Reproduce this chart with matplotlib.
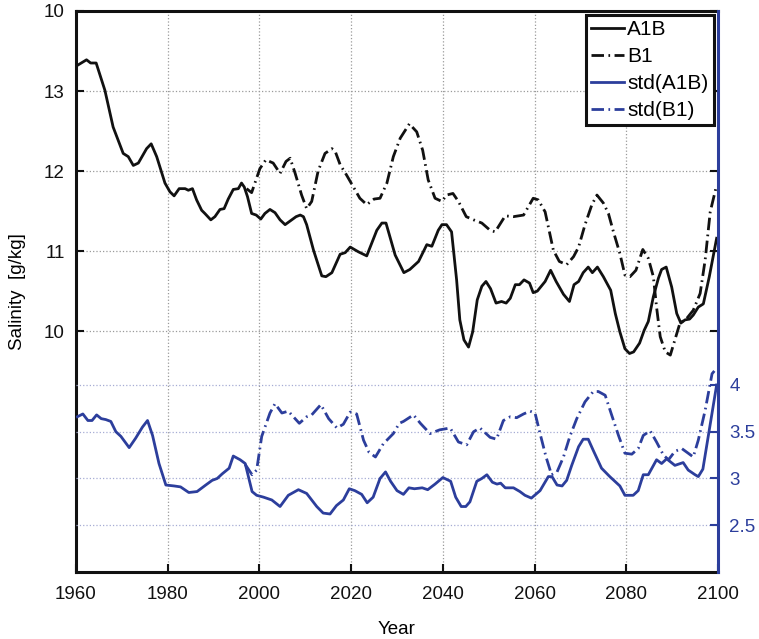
import numpy as np
import matplotlib
matplotlib.use("Agg")
import matplotlib.pyplot as plt

plt.rcParams['font.family'] = ['Liberation Sans', 'DejaVu Sans']

# Salinity, scenario A1B (left axis)
a1b_years = [1960, 1962.3, 1963.2, 1964.4, 1966.3, 1968.1, 1970.3, 1971.4, 1972.5, 1973.6,
             1975.4, 1976.4, 1977.6, 1979.4, 1980.5, 1981.4, 1982.5, 1983.8, 1984.5, 1985.4,
             1986.3, 1987.4, 1988.1, 1989.4, 1990.3, 1991.4, 1992.3, 1993.2, 1994.3, 1995.4,
             1996.1, 1996.7, 1997.4, 1998.3, 1999.3, 2000.3, 2001.2, 2002.3, 2003.4, 2004.5,
             2005.6, 2006.8, 2008.0, 2008.9, 2009.6, 2010.3, 2011.8, 2013.6, 2014.5, 2015.8,
             2017.6, 2018.7, 2019.8, 2021.6, 2023.4, 2025.6, 2026.7, 2027.6, 2029.6, 2031.5,
             2032.8, 2034.7, 2036.5, 2037.6, 2039.0, 2039.8, 2040.8, 2041.9, 2043.0, 2043.7,
             2044.6, 2045.6, 2046.5, 2047.5, 2048.5, 2049.4, 2050.4, 2051.6, 2052.8, 2053.8,
             2054.7, 2055.8, 2056.7, 2057.7, 2058.9, 2059.7, 2060.6, 2062.3, 2063.5, 2064.7,
             2066.3, 2067.6, 2068.6, 2069.6, 2070.6, 2071.7, 2072.6, 2073.7, 2075.0, 2076.6,
             2077.6, 2078.6, 2079.7, 2080.7, 2081.6, 2082.9, 2083.9, 2084.8, 2085.9, 2087.0,
             2087.7, 2088.7, 2089.9, 2091.0, 2091.9, 2092.8, 2093.8, 2094.6, 2095.7, 2096.8,
             2098.1, 2099.7]
a1b_vals = [13.31, 13.39, 13.35, 13.35, 13.01, 12.55, 12.22, 12.18, 12.07, 12.10,
            12.28, 12.34, 12.18, 11.85, 11.74, 11.69, 11.78, 11.78, 11.76, 11.78,
            11.64, 11.51, 11.47, 11.39, 11.43, 11.52, 11.53, 11.65, 11.77, 11.78,
            11.85, 11.80, 11.68, 11.47, 11.45, 11.40, 11.47, 11.52, 11.48, 11.39,
            11.33, 11.38, 11.43, 11.45, 11.43, 11.33, 11.01, 10.69, 10.68, 10.73,
            10.96, 10.98, 11.05, 10.99, 10.94, 11.26, 11.35, 11.35, 10.95, 10.73,
            10.77, 10.87, 11.08, 11.06, 11.26, 11.33, 11.33, 11.24, 10.64, 10.14,
            9.89, 9.80, 9.99, 10.39, 10.56, 10.62, 10.53, 10.35, 10.37, 10.35,
            10.41, 10.58, 10.58, 10.64, 10.60, 10.48, 10.50, 10.62, 10.76, 10.62,
            10.46, 10.37, 10.58, 10.62, 10.73, 10.80, 10.73, 10.80, 10.68, 10.51,
            10.22, 9.99, 9.78, 9.72, 9.74, 9.85, 10.01, 10.12, 10.43, 10.66,
            10.77, 10.80, 10.55, 10.22, 10.10, 10.14, 10.15, 10.20, 10.30, 10.34,
            10.68, 11.16]

# Salinity, scenario B1 (left axis)
b1_years = [1997.2, 1998.3, 2000.1, 2001.4, 2003.0, 2004.5, 2005.8, 2006.7, 2007.8, 2009.2,
            2010.3, 2011.4, 2012.8, 2014.3, 2015.8, 2016.5, 2017.6, 2019.0, 2020.5, 2021.9,
            2023.4, 2025.0, 2026.3, 2027.8, 2029.2, 2030.7, 2032.7, 2034.3, 2035.6, 2036.8,
            2038.3, 2039.8, 2040.8, 2042.2, 2043.4, 2045.1, 2046.7, 2048.5, 2050.3, 2051.4,
            2053.6, 2055.4, 2057.6, 2059.7, 2060.8, 2062.3, 2064.1, 2065.4, 2067.0, 2068.5,
            2069.6, 2071.0, 2072.5, 2073.6, 2075.0, 2076.1, 2077.2, 2078.6, 2079.7, 2080.8,
            2082.1, 2083.6, 2084.8, 2085.9, 2086.6, 2087.4, 2088.5, 2089.6, 2090.7, 2091.7,
            2093.2, 2094.6, 2096.1, 2097.2, 2098.3, 2099.6]
b1_vals = [11.78, 11.73, 12.03, 12.14, 12.10, 11.97, 12.12, 12.16, 11.97, 11.70,
           11.53, 11.62, 12.00, 12.22, 12.28, 12.25, 12.08, 11.95, 11.80, 11.66,
           11.58, 11.65, 11.66, 11.85, 12.18, 12.41, 12.59, 12.49, 12.26, 11.89,
           11.66, 11.62, 11.70, 11.72, 11.62, 11.43, 11.39, 11.35, 11.26, 11.24,
           11.44, 11.43, 11.45, 11.66, 11.64, 11.49, 11.01, 10.87, 10.83, 10.93,
           11.05, 11.33, 11.58, 11.70, 11.60, 11.47, 11.24, 10.97, 10.70, 10.68,
           10.76, 11.02, 10.91, 10.68, 10.30, 9.93, 9.74, 9.70, 9.91, 10.10,
           10.16, 10.26, 10.47, 10.89, 11.49, 11.80]

# std(A1B) (right axis)
sa_years = [1960.3, 1961.5, 1962.6, 1963.5, 1964.5, 1965.5, 1966.5, 1967.6, 1968.7, 1969.8,
            1971.6, 1973.0, 1974.5, 1975.6, 1976.7, 1978.1, 1979.6, 1981.4, 1982.8, 1984.6,
            1986.4, 1988.3, 1989.7, 1990.8, 1991.9, 1993.4, 1994.3, 1995.8, 1996.9, 1998.4,
            1999.4, 2000.9, 2002.7, 2004.5, 2006.3, 2008.5, 2010.3, 2012.5, 2013.9, 2015.4,
            2016.8, 2018.3, 2019.6, 2020.8, 2022.3, 2023.5, 2024.8, 2026.3, 2027.5, 2028.6,
            2030.0, 2031.4, 2032.6, 2033.8, 2035.5, 2036.7, 2038.3, 2040.0, 2041.7, 2042.8,
            2044.0, 2045.0, 2045.9, 2047.4, 2048.5, 2049.6, 2050.8, 2051.8, 2052.6, 2053.6,
            2055.4, 2056.8, 2057.9, 2059.3, 2061.2, 2063.0, 2063.8, 2064.9, 2066.0, 2067.0,
            2068.1, 2069.6, 2070.6, 2071.7, 2072.8, 2074.6, 2076.4, 2078.6, 2079.7, 2081.5,
            2082.6, 2083.7, 2084.8, 2086.6, 2087.7, 2088.8, 2090.6, 2092.4, 2093.5, 2095.0,
            2095.7, 2096.7, 2097.9, 2099.7]
sa_vals = [3.66, 3.69, 3.62, 3.62, 3.68, 3.64, 3.63, 3.61, 3.50, 3.45,
           3.33, 3.43, 3.55, 3.62, 3.46, 3.16, 2.93, 2.92, 2.91, 2.85,
           2.86, 2.93, 2.98, 3.00, 3.05, 3.11, 3.24, 3.20, 3.16, 2.86,
           2.82, 2.80, 2.77, 2.70, 2.82, 2.88, 2.84, 2.70, 2.63, 2.62,
           2.71, 2.77, 2.89, 2.87, 2.83, 2.74, 2.80, 3.00, 3.07, 2.97,
           2.87, 2.83, 2.90, 2.89, 2.90, 2.88, 2.94, 3.01, 2.97, 2.80,
           2.70, 2.70, 2.75, 2.97, 3.00, 3.04, 2.96, 2.94, 2.95, 2.90,
           2.90, 2.86, 2.82, 2.79, 2.87, 3.02, 3.02, 2.93, 2.92, 2.98,
           3.14, 3.34, 3.42, 3.42, 3.30, 3.11, 3.02, 2.92, 2.82, 2.82,
           2.87, 3.04, 3.04, 3.20, 3.16, 3.21, 3.14, 3.17, 3.09, 3.04,
           3.02, 3.10, 3.46, 4.00]

# std(B1) (right axis)
sb_years = [1996.9, 1998.4, 1999.4, 2000.5, 2002.3, 2003.4, 2004.9, 2006.3, 2008.7, 2010.3,
            2011.4, 2013.4, 2015.1, 2016.9, 2018.3, 2019.8, 2021.2, 2022.7, 2023.9, 2025.3,
            2027.0, 2029.2, 2030.5, 2031.4, 2033.6, 2035.1, 2037.2, 2039.3, 2041.6, 2043.4,
            2045.2, 2046.7, 2048.1, 2050.3, 2051.7, 2053.2, 2054.7, 2056.1, 2057.6, 2059.0,
            2060.1, 2061.2, 2062.5, 2063.7, 2064.9, 2066.3, 2067.7, 2069.2, 2071.0, 2072.8,
            2073.9, 2075.4, 2076.8, 2078.3, 2079.7, 2081.2, 2082.6, 2083.7, 2085.2, 2086.6,
            2088.1, 2089.2, 2090.6, 2092.1, 2093.5, 2094.6, 2095.7, 2097.2, 2098.7, 2099.2]
sb_vals = [3.15, 3.04, 3.09, 3.45, 3.70, 3.80, 3.70, 3.72, 3.59, 3.66,
           3.68, 3.79, 3.64, 3.54, 3.58, 3.71, 3.69, 3.41, 3.28, 3.23,
           3.37, 3.48, 3.59, 3.61, 3.68, 3.59, 3.48, 3.52, 3.54, 3.39,
           3.36, 3.50, 3.54, 3.44, 3.42, 3.62, 3.66, 3.65, 3.69, 3.72,
           3.70, 3.48, 3.23, 3.04, 3.07, 3.23, 3.45, 3.64, 3.82, 3.93,
           3.93, 3.89, 3.68, 3.46, 3.27, 3.26, 3.32, 3.46, 3.51, 3.39,
           3.25, 3.20, 3.29, 3.32, 3.27, 3.23, 3.41, 3.73, 4.12, 4.15]

x_ticks = [1960, 1980, 2000, 2020, 2040, 2060, 2080, 2100]
left_ticks = [10, 11, 12, 13, 14]
left_labels = ['10', '11', '12', '13', '10']
right_ticks = [2.5, 3, 3.5, 4]
right_labels = ['2.5', '3', '3.5', '4']

blue = '#2c3e9c'
dashdot = (0, (4.5, 1.6, 0.6, 1.6))

fig = plt.figure(figsize=(7.59, 6.39), dpi=100)
ax = fig.add_axes([0.1001, 0.1049, 0.8459, 0.8779])
ax2 = ax.twinx()

# grids
for xv in x_ticks[1:-1]:
    ax.axvline(xv, color='#9a9a9a', ls=':', lw=0.9, zorder=0)
for yv in left_ticks[:-1]:
    ax.axhline(yv, color='#9a9a9a', ls=':', lw=0.9, zorder=0)
for yv in right_ticks:
    ax2.axhline(yv, color='#a6acd4', ls=':', lw=0.9, zorder=0)

l1, = ax.plot(a1b_years, a1b_vals, color='#111111', lw=2.0, label='A1B')
l2, = ax.plot(b1_years, b1_vals, color='#111111', lw=2.0, ls=dashdot, label='B1')
l3, = ax2.plot(sa_years, sa_vals, color=blue, lw=2.0, label='std(A1B)')
l4, = ax2.plot(sb_years, sb_vals, color=blue, lw=2.0, ls=dashdot, label='std(B1)')

ax.set_xlim(1960, 2100)
ax.set_ylim(6.99, 14)
ax2.set_ylim(2, 8)

ax.set_xticks(x_ticks)
ax.set_xticklabels([str(t) for t in x_ticks])
ax.set_yticks(left_ticks)
ax.set_yticklabels(left_labels)
ax2.set_yticks(right_ticks)
ax2.set_yticklabels(right_labels)

ax.tick_params(axis='both', direction='in', length=6, width=1.5, labelsize=13.5,
               right=True, colors='#111111', pad=8)
ax.tick_params(axis='x', pad=10)
ax2.tick_params(axis='y', direction='in', length=6, width=1.5, labelsize=13.5,
                colors=blue, pad=8)

for s in ['left', 'bottom', 'top']:
    ax.spines[s].set_linewidth(2.2)
    ax.spines[s].set_color('#111111')
ax.spines['right'].set_visible(False)
ax2.spines['right'].set_color(blue)
ax2.spines['right'].set_linewidth(2.2)
for s in ['left', 'bottom', 'top']:
    ax2.spines[s].set_visible(False)

ax.set_xlabel('Year', fontsize=13.5, labelpad=13)
ax.set_ylabel('Salinity  [g/kg]', fontsize=13.5, labelpad=13)

leg = ax2.legend([l1, l2, l3, l4], ['A1B', 'B1', 'std(A1B)', 'std(B1)'],
                 loc='upper right', fontsize=15, fancybox=False, framealpha=1,
                 edgecolor='#111111', handlelength=1.6, handletextpad=0.15,
                 borderaxespad=0.2, borderpad=0.25, labelspacing=0.38)
leg.get_frame().set_linewidth(2.2)

fig.savefig('out.png', dpi=100)
